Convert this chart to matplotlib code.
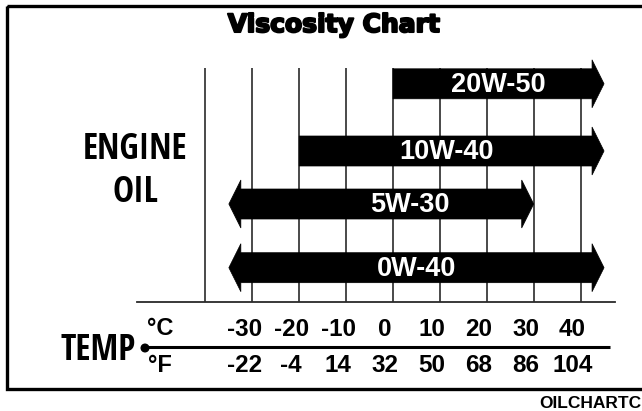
import matplotlib
matplotlib.use("Agg")
import matplotlib.pyplot as plt
from matplotlib.patches import Polygon, Rectangle, Circle
from matplotlib import transforms
import matplotlib.patheffects as pe

# ---------------- data ----------------
oils = ["20W-50", "10W-40", "5W-30", "0W-40"]
oil_low_c = [0, -20, -35, -35]        # lower end (°C); arrow tip if open-ended
oil_high_c = [45, 45, 30, 45]         # upper end (°C); arrow tip
left_open = [False, False, True, True]
right_open = [True, True, True, True]
grid_c = [-40, -30, -20, -10, 0, 10, 20, 30, 40]
celsius_ticks = [-30, -20, -10, 0, 10, 20, 30, 40]
fahrenheit_labels = ["-22", "-4", "14", "32", "50", "68", "86", "104"]

# ---------------- layout / style ----------------
W, H, DPI = 642, 411, 100
X0_PX = 393.0          # pixel of 0 °C
PX_PER_C = 4.69
row_y = [83.8, 151.0, 204.0, 267.7]   # row centres in px from top
label_shift_c = [0, -1, 6, 0]
BODY_HALF = 15
HEAD_HALF = 24
HEAD_LEN_PX = 12
GRID_TOP, GRID_BOT = 68, 302

NARROW = ["Open Sans Condensed", "DejaVu Sans"]
SANS = ["Liberation Sans", "DejaVu Sans"]

fig = plt.figure(figsize=(W / DPI, H / DPI), dpi=DPI)
bg = fig.add_axes([0, 0, 1, 1])
bg.set_xlim(0, W)
bg.set_ylim(H, 0)
bg.axis("off")

ax = fig.add_axes([0, 0, 1, 1])
ax.set_xlim(-X0_PX / PX_PER_C, (W - X0_PX) / PX_PER_C)
ax.set_ylim(H, 0)
ax.axis("off")
ax.patch.set_alpha(0)

# border (extends beyond right edge)
bg.add_patch(Rectangle((7, 6.5), 700, 382, fill=False, lw=2.4, ec="black"))

# title
bg.text(334, 32, "Viscosity Chart", ha="center", va="baseline",
        fontsize=18, fontweight="bold", family=["DejaVu Sans"],
        path_effects=[pe.withStroke(linewidth=1.5, foreground="black")])

# grid lines
for c in grid_c:
    ax.plot([c, c], [GRID_TOP, GRID_BOT], color="#2a2a2a", lw=1.2, zorder=1,
            solid_capstyle="butt")
# baseline
bg.plot([137, 615], [302, 302], color="#2a2a2a", lw=1.3, zorder=1)

# arrows
hl = HEAD_LEN_PX / PX_PER_C
for name, lo, hi, lopen, ropen, y, sh in zip(oils, oil_low_c, oil_high_c,
                                              left_open, right_open, row_y,
                                              label_shift_c):
    pts = []
    if lopen:
        pts += [(lo, y), (lo + hl, y - HEAD_HALF), (lo + hl, y - BODY_HALF)]
    else:
        pts += [(lo, y + BODY_HALF), (lo, y - BODY_HALF)]
    if ropen:
        pts += [(hi - hl, y - BODY_HALF), (hi - hl, y - HEAD_HALF), (hi, y),
                (hi - hl, y + HEAD_HALF), (hi - hl, y + BODY_HALF)]
    else:
        pts += [(hi, y - BODY_HALF), (hi, y + BODY_HALF)]
    if lopen:
        pts += [(lo + hl, y + BODY_HALF), (lo + hl, y + HEAD_HALF)]
    ax.add_patch(Polygon(pts, closed=True, fc="black", ec="black", lw=0.5,
                         zorder=3))
    ax.text((lo + hi) / 2 + sh, y + 1, name, ha="center", va="center",
            color="white", fontsize=19.5, fontweight="bold", family=SANS,
            zorder=4)

# ENGINE OIL
bg.text(135, 150, "ENGINE", ha="center", va="center", fontsize=25.5,
        fontweight="bold", family=NARROW)
bg.text(135, 193, "OIL", ha="center", va="center", fontsize=25.5,
        fontweight="bold", family=NARROW)

# temperature scale
off = transforms.offset_copy(ax.transData, fig=fig, x=-8, y=0, units="dots")
for c, f in zip(celsius_ticks, fahrenheit_labels):
    ax.text(c, 329, str(c), transform=off, ha="center", va="center",
            fontsize=17.5, fontweight="bold", family=SANS)
    ax.text(c, 365, f, transform=off, ha="center", va="center",
            fontsize=17.5, fontweight="bold", family=SANS)

bg.plot([145, 610], [347, 347], color="black", lw=2.2, solid_capstyle="butt")
bg.add_patch(Circle((145, 348), 3.8, color="black"))
bg.text(160, 328, "°C", ha="center", va="center", fontsize=17,
        fontweight="bold", family=SANS)
bg.text(160, 365, "°F", ha="center", va="center", fontsize=17,
        fontweight="bold", family=SANS)
bg.text(136, 351, "TEMP", ha="right", va="center", fontsize=25.5,
        fontweight="bold", family=NARROW)

# footer code (cut off at the right edge, as in the source)
bg.text(539, 408, "OILCHARTC", ha="left", va="baseline", fontsize=12.5,
        fontweight="bold", family=SANS)

fig.savefig("out.png", dpi=DPI)
